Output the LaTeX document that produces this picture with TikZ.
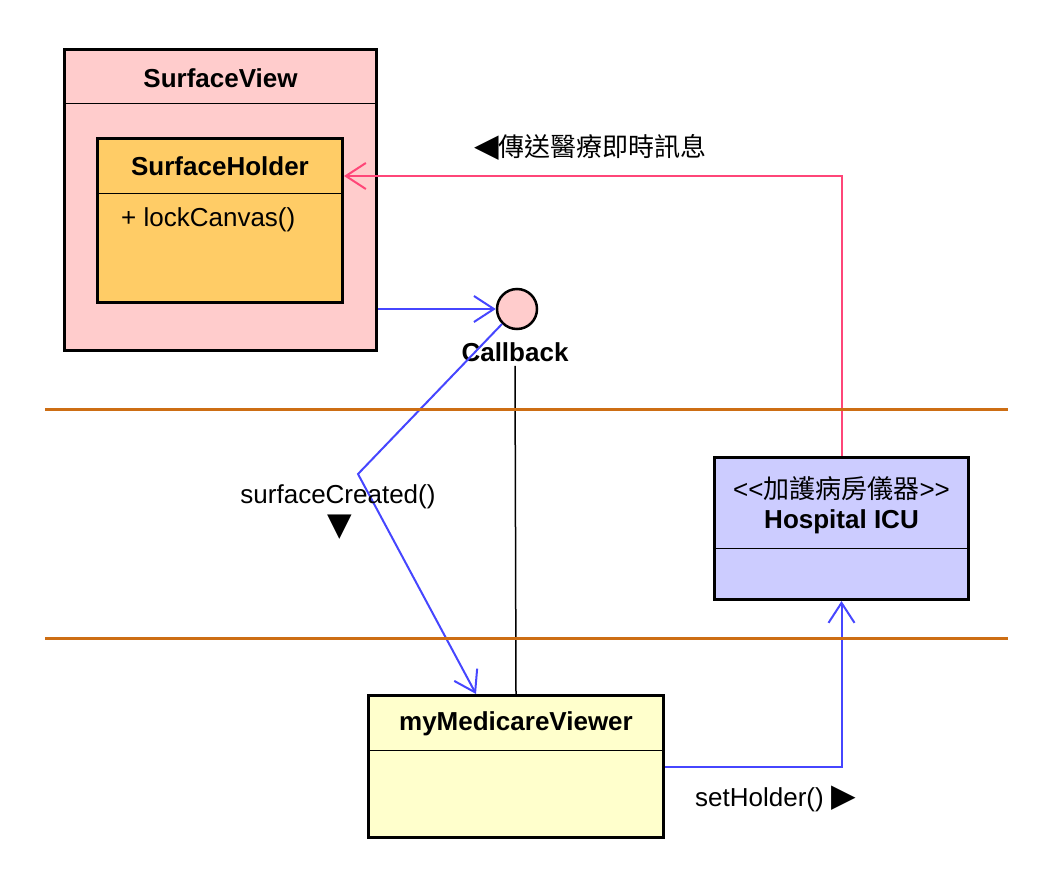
\documentclass[tikz,border=0pt]{standalone}
\usepackage{fontspec}
\setmainfont{Liberation Sans}
\newfontfamily\cjk{Noto Sans CJK TC}
\newfontfamily\symb{DejaVu Sans}
\usetikzlibrary{arrows.meta,positioning,calc}

\definecolor{viewpink}{RGB}{255,204,204}
\definecolor{holderorange}{RGB}{255,204,102}
\definecolor{icublue}{RGB}{204,204,255}
\definecolor{vieweryellow}{RGB}{255,255,204}
\definecolor{msgblue}{RGB}{70,70,255}
\definecolor{msgpink}{RGB}{255,70,120}
\definecolor{layerorange}{RGB}{205,110,20}

\tikzset{
  classbox/.style={draw, line width=3pt, inner sep=0pt},
  sepline/.style={line width=1pt},
  boldtext/.style={font=\fontsize{26}{30}\selectfont\bfseries, inner sep=0pt},
  plaintext/.style={font=\fontsize{26}{30}\selectfont, inner sep=0pt},
  layerline/.style={layerorange, line width=3pt},
  bluearrow/.style={msgblue, line width=2pt, -{Straight Barb[length=20pt,width=26pt,line width=2pt]}},
  pinkarrow/.style={msgpink, line width=2pt, -{Straight Barb[length=20pt,width=26pt,line width=2pt]}}
}

\begin{document}
\begin{tikzpicture}[x=1pt,y=-1pt]
  \useasboundingbox (0,0) rectangle (1040,878);

  % SurfaceView with its SurfaceHolder
  \node[classbox, fill=viewpink, minimum width=312, minimum height=301] (surfaceview) at (220.5,200) {};
  \node[boldtext] (surfaceviewname) at (220.5,78) {SurfaceView};
  \draw[sepline] (64,103) -- (377,103);
  \node[classbox, fill=holderorange, minimum width=245, minimum height=164] (surfaceholder) at (220,220.5) {};
  \node[boldtext] (surfaceholdername) at (220,166) {SurfaceHolder};
  \draw[sepline] (97,193) -- (343,193);
  \node[plaintext, anchor=west] (lockcanvas) at (121,220) {+ lockCanvas()};
  \coordinate (holderport) at (344,176);

  % Callback interface
  \node[draw, circle, line width=2.5pt, fill=viewpink, minimum size=40, inner sep=0pt] (callback) at (517,309) {};
  \node[boldtext] (callbackname) at (515,352) {Callback};

  % Hospital ICU
  \node[classbox, fill=icublue, minimum width=254, minimum height=142] (icu) at (841.5,528.5) {};
  \node[plaintext] (icustereo) at (841.5,489) {<{}<{\cjk 加護病房儀器}>{}>};
  \node[boldtext] (icuname) at (841.5,522) {Hospital ICU};
  \draw[sepline] (715,548) -- (968,548);

  % myMedicareViewer
  \node[classbox, fill=vieweryellow, minimum width=295, minimum height=142] (viewer) at (516,766.5) {};
  \node[boldtext] (viewername) at (516,724) {myMedicareViewer};
  \draw[sepline] (369,750) -- (663,750);

  % Connectors
  \draw[bluearrow] (surfaceview.east |- callback.west) -- (callback.west);
  \draw[pinkarrow] (icu.north) |- (holderport);
  \draw[line width=1.5pt] (callbackname.south) ++(0,4) -- (viewer.north);
  \coordinate (createdbend) at (358,474);
  \draw[bluearrow] (callback.225) -- (createdbend) -- ($(viewer.north)+(-40,0)$);
  \draw[bluearrow] (viewer.east) -| (icu.south);

  % Message labels
  \node[plaintext, anchor=west] (sendlabel) at (474,147) {{\symb\fontsize{32}{34}\selectfont ◀}{\cjk 傳送醫療即時訊息}};
  \node[plaintext] (createdlabel) at (338,497) {surfaceCreated()};
  \node[inner sep=0pt, font=\symb\fontsize{32}{34}\selectfont] (createdtri) at (340,527) {▼};
  \node[plaintext, anchor=west] (holderlabel) at (695,799) {setHolder() {\symb\fontsize{32}{34}\selectfont ▶}};

  % Layer separators
  \draw[layerline] (45,409) -- (1008,409);
  \draw[layerline] (45,638) -- (1008,638);
\end{tikzpicture}
\end{document}
